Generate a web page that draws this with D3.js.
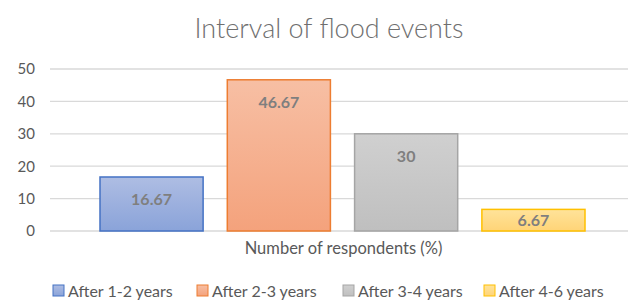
<!DOCTYPE html>
<html>
<head>
<meta charset="utf-8">
<script src="https://cdn.jsdelivr.net/npm/d3@7"></script>
<style>
  body { margin: 0; background: #fff; }
  svg text { font-family: Lato, "Open Sans", sans-serif; }
</style>
</head>
<body>
<div id="chart"></div>
<script>
// Data
const categories = ["Number of respondents (%)"];
const seriesNames = ["After 1-2 years", "After 2-3 years", "After 3-4 years", "After 4-6 years"];
const seriesValues = [16.67, 46.67, 30, 6.67];
const yTicks = [0, 10, 20, 30, 40, 50];

const fills = [["#aebde3", "#8aa3d9"], ["#f7bfa4", "#f4a27c"], ["#d0d0d0", "#bfbfbf"], ["#ffe39a", "#ffd477"]];
const strokes = ["#4472c4", "#ed7d31", "#a5a5a5", "#ffc000"];

const W = 631, H = 300;
const margin = { top: 69, right: 0, bottom: 69, left: 50 };
const width = W - margin.left - margin.right;
const height = H - margin.top - margin.bottom;

const root = d3.select("#chart").append("svg")
    .attr("width", W)
    .attr("height", H);

const defs = root.append("defs");
fills.forEach((f, i) => {
    const g = defs.append("linearGradient")
        .attr("id", "grad" + i)
        .attr("x1", 0).attr("y1", 0).attr("x2", 0).attr("y2", 1);
    g.append("stop").attr("offset", "0%").attr("stop-color", f[0]);
    g.append("stop").attr("offset", "100%").attr("stop-color", f[1]);
});

// Title
root.append("text")
    .attr("x", 329)
    .attr("y", 38)
    .attr("text-anchor", "middle")
    .attr("fill", "#6f6f6f")
    .style("font-size", "27px")
    .style("font-weight", "300")
    .text("Interval of flood events");

const svg = root.append("g")
    .attr("transform", "translate(" + margin.left + "," + margin.top + ")");

// Scales
const x0 = d3.scaleBand()
    .domain(categories)
    .range([0, 585])
    .paddingOuter(0.0);

const x1 = d3.scaleBand()
    .domain(seriesNames)
    .range([50, 535])
    .paddingInner(0.19)
    .paddingOuter(0);

const y = d3.scaleLinear()
    .domain([0, 50])
    .range([height, 0]);

// Gridlines
svg.append("g")
    .selectAll("line")
    .data(yTicks)
    .join("line")
    .attr("x1", 0)
    .attr("x2", W - margin.left - 3)
    .attr("y1", d => y(d))
    .attr("y2", d => y(d))
    .attr("stroke", "#d9d9d9")
    .attr("stroke-width", 1.3);

// Y axis labels
const yAxis = svg.append("g")
    .call(d3.axisLeft(y).tickValues(yTicks).tickSize(0).tickPadding(15));
yAxis.select(".domain").remove();
yAxis.selectAll("text")
    .attr("fill", "#595959")
    .style("font-size", "15px")
    .style("font-family", "Lato, sans-serif");

// Bars
const bars = svg.append("g")
    .attr("transform", "translate(" + x0(categories[0]) + ",0)");

bars.selectAll("rect")
    .data(seriesValues)
    .join("rect")
    .attr("x", (d, i) => x1(seriesNames[i]))
    .attr("y", d => y(d))
    .attr("width", x1.bandwidth())
    .attr("height", d => height - y(d))
    .attr("fill", (d, i) => "url(#grad" + i + ")")
    .attr("stroke", (d, i) => strokes[i])
    .attr("stroke-width", 1.5);

// Value labels (inside end)
bars.selectAll("text")
    .data(seriesValues)
    .join("text")
    .attr("x", (d, i) => x1(seriesNames[i]) + x1.bandwidth() / 2)
    .attr("y", d => Math.min(y(d) + 22, (y(d) + height) / 2) + 6)
    .attr("text-anchor", "middle")
    .attr("fill", "#7f7f7f")
    .style("font-size", "16px")
    .style("font-weight", "bold")
    .text(d => d);

// Category axis label
svg.append("text")
    .attr("x", x0(categories[0]) + x0.bandwidth() / 2 + 1)
    .attr("y", height + 23)
    .attr("text-anchor", "middle")
    .attr("fill", "#595959")
    .style("font-size", "16.5px")
    .text(categories[0]);

// Legend
const legendX = [53, 197, 343, 484];
const legend = root.append("g").attr("transform", "translate(0,285)");
seriesNames.forEach((name, i) => {
    legend.append("rect")
        .attr("x", legendX[i])
        .attr("y", 0)
        .attr("width", 11)
        .attr("height", 11)
        .attr("fill", "url(#grad" + i + ")")
        .attr("stroke", strokes[i])
        .attr("stroke-width", 1);
    legend.append("text")
        .attr("x", legendX[i] + 15)
        .attr("y", 12)
        .attr("fill", "#595959")
        .style("font-size", "16px")
        .text(name);
});
</script>
</body>
</html>
